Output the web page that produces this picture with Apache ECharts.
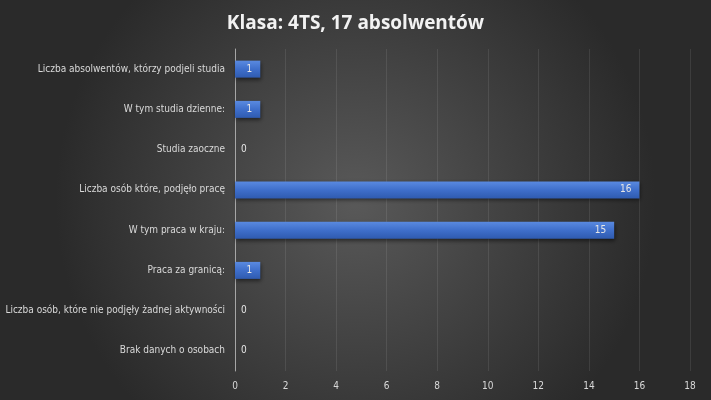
<!DOCTYPE html>
<html>
<head>
<meta charset="utf-8">
<script src="https://cdn.jsdelivr.net/npm/echarts@6/dist/echarts.min.js"></script>
<style>
  html, body { margin: 0; padding: 0; }
  #chart { width: 711px; height: 400px; }
</style>
</head>
<body>
<div id="chart"></div>
<script>
// categories listed top to bottom, as in the picture
const categories = [
  "Liczba absolwentów, którzy podjeli studia",
  "W tym studia dzienne:",
  "Studia zaoczne",
  "Liczba osób które, podjęło pracę",
  "W tym praca w kraju:",
  "Praca za granicą:",
  "Liczba osób, które nie podjęły żadnej aktywności",
  "Brak danych o osobach"
];
const values = [1, 1, 0, 16, 15, 1, 0, 0];
const xTicks = [0, 2, 4, 6, 8, 10, 12, 14, 16, 18];

const font = "'DejaVu Sans Condensed', sans-serif";

const chart = echarts.init(document.getElementById("chart"));

const barData = values.map((v) => ({
  value: v,
  label: v === 0
    ? { position: "right", distance: 6 }
    : { position: "insideRight", distance: 8 }
}));

chart.setOption({
  backgroundColor: {
    type: "radial",
    x: 0.5, y: 0.5, r: 0.75,
    colorStops: [
      { offset: 0, color: "#595959" },
      { offset: 1, color: "#2a2a2a" }
    ]
  },
  title: {
    text: "Klasa: 4TS, 17 absolwentów",
    left: "center",
    top: 9,
    textStyle: {
      color: "#f2f2f2",
      fontSize: 19,
      fontWeight: "bold",
      fontFamily: "'Open Sans', sans-serif"
    }
  },
  grid: {
    left: 235,
    right: 21,
    top: 49,
    bottom: 29,
    outerBoundsMode: "none",
    containLabel: false
  },
  xAxis: {
    type: "value",
    min: xTicks[0],
    max: xTicks[xTicks.length - 1],
    interval: 2,
    axisLine: { show: false },
    axisTick: { show: false },
    axisLabel: {
      color: "#d9d9d9",
      fontSize: 10,
      fontFamily: font,
      margin: 10
    },
    splitLine: {
      lineStyle: { color: "rgba(255,255,255,0.09)", width: 1 }
    }
  },
  yAxis: {
    type: "category",
    data: categories,
    inverse: true,
    axisLine: { show: true, lineStyle: { color: "#a6a6a6", width: 1 } },
    axisTick: { show: false },
    axisLabel: {
      color: "#d9d9d9",
      fontSize: 10,
      fontFamily: font,
      margin: 10
    }
  },
  series: [{
    type: "bar",
    data: barData,
    barWidth: 17,
    itemStyle: {
      color: {
        type: "linear",
        x: 0, y: 0, x2: 0, y2: 1,
        colorStops: [
          { offset: 0, color: "#5a8ae0" },
          { offset: 0.5, color: "#3f6fcb" },
          { offset: 1, color: "#2f5bb0" }
        ]
      },
      shadowColor: "rgba(0,0,0,0.5)",
      shadowBlur: 4,
      shadowOffsetX: 1,
      shadowOffsetY: 2
    },
    label: {
      show: true,
      color: "#e6e6e6",
      fontSize: 10,
      fontFamily: font
    }
  }]
});
</script>
</body>
</html>
